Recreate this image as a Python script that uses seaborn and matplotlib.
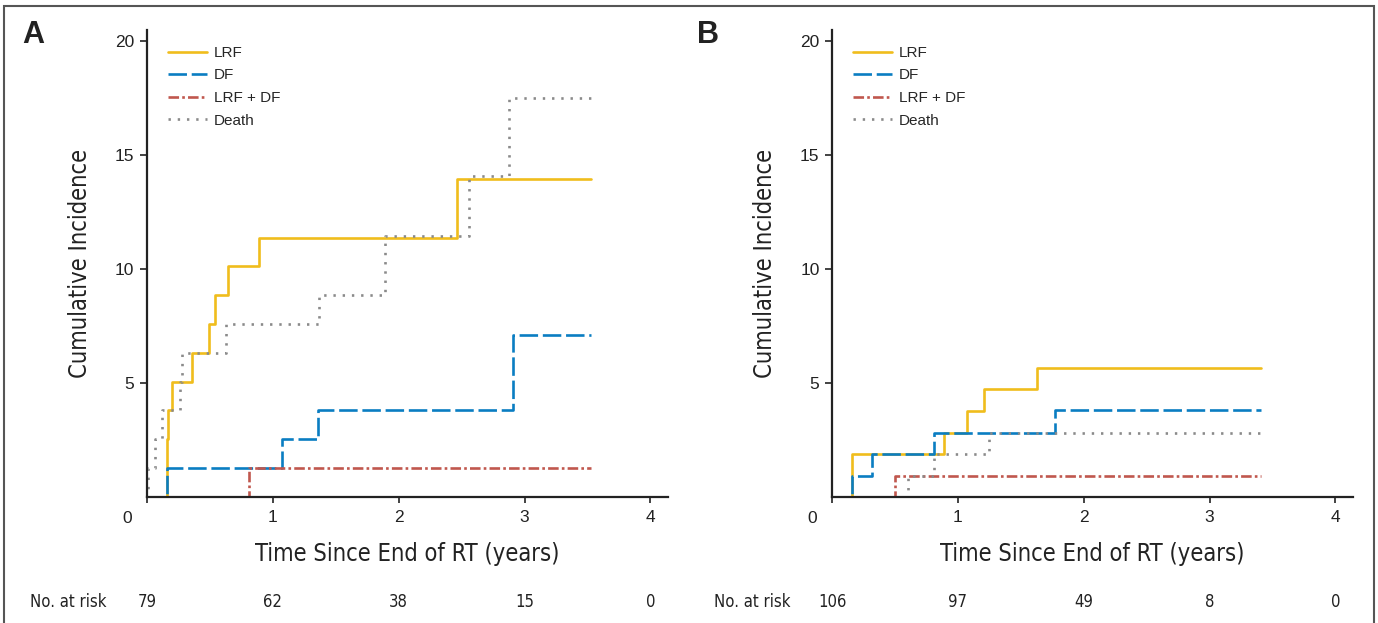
import numpy as np
import pandas as pd
import matplotlib
matplotlib.use('Agg')
import matplotlib.pyplot as plt
import matplotlib.transforms as mtransforms
from matplotlib.lines import Line2D
from matplotlib import font_manager
import seaborn as sns

# Datos (tiempo en anos, incidencia acumulada en %)
series = ['LRF', 'DF', 'LRF + DF', 'Death']

a_lrf_t = [0, 0.155, 0.165, 0.20, 0.36, 0.49, 0.54, 0.64, 0.89, 2.46, 3.53]
a_lrf_y = [0, 2.53, 3.80, 5.06, 6.33, 7.59, 8.86, 10.13, 11.39, 13.95, 13.95]
a_df_t = [0, 0.155, 1.07, 1.36, 2.91, 3.53]
a_df_y = [0, 1.27, 2.53, 3.80, 7.12, 7.12]
a_both_t = [0, 0.81, 3.53]
a_both_y = [0, 1.27, 1.27]
a_death_t = [0, 0.01, 0.065, 0.12, 0.26, 0.28, 0.63, 1.37, 1.89, 2.56, 2.88, 3.53]
a_death_y = [0, 1.27, 2.53, 3.80, 5.06, 6.33, 7.59, 8.86, 11.47, 14.1, 17.5, 17.5]

b_lrf_t = [0, 0.16, 0.89, 1.07, 1.21, 1.63, 3.41]
b_lrf_y = [0, 1.89, 2.83, 3.78, 4.72, 5.68, 5.68]
b_df_t = [0, 0.16, 0.32, 0.81, 1.77, 3.41]
b_df_y = [0, 0.94, 1.89, 2.83, 3.83, 3.83]
b_both_t = [0, 0.50, 3.41]
b_both_y = [0, 0.94, 0.94]
b_death_t = [0, 0.60, 0.81, 1.25, 3.41]
b_death_y = [0, 0.94, 1.89, 2.83, 2.83]

risk_times = [0, 1, 2, 3, 4]
a_risk = [79, 62, 38, 15, 0]
b_risk = [106, 97, 49, 8, 0]

# Estilos
colors = {'LRF': '#F0BD1C', 'DF': '#0A7DC2', 'LRF + DF': '#C0574E', 'Death': '#8A8A8A'}
dashes = {'LRF': '', 'DF': (7, 1.8), 'LRF + DF': (4, 1.2, 1, 1.2), 'Death': (0.9, 2.6)}

sns.set_style('ticks')
plt.rcParams['font.family'] = ['Liberation Sans', 'DejaVu Sans']

# fuente estrecha para rotulos (si existe una version condensada)
cond = [f for f in font_manager.fontManager.ttflist
        if ('Condensed' in f.fname or 'Narrow' in f.fname) and 'Bold' not in f.fname
        and 'Oblique' not in f.fname and 'Italic' not in f.fname]
pref = [f for f in cond if 'LiberationSansNarrow' in f.fname.replace(' ', '')] + \
       [f for f in cond if 'DejaVuSansCondensed' in f.fname] + cond
if pref:
    narrow_fp = font_manager.FontProperties(fname=pref[0].fname)
else:
    narrow_fp = font_manager.FontProperties(family='Liberation Sans')


def nfp(size):
    fp = narrow_fp.copy()
    fp.set_size(size)
    return fp


def make_df(parts):
    frames = []
    for name, t, y in parts:
        frames.append(pd.DataFrame({'time': t, 'inc': y, 'grupo': name}))
    return pd.concat(frames, ignore_index=True)


df_a = make_df([('LRF', a_lrf_t, a_lrf_y), ('DF', a_df_t, a_df_y),
                ('LRF + DF', a_both_t, a_both_y), ('Death', a_death_t, a_death_y)])
df_b = make_df([('LRF', b_lrf_t, b_lrf_y), ('DF', b_df_t, b_df_y),
                ('LRF + DF', b_both_t, b_both_y), ('Death', b_death_t, b_death_y)])

fig = plt.figure(figsize=(13.78, 6.23), dpi=100)
W, H = 1378, 623
ax_a = fig.add_axes([147 / W, 1 - 497 / H, 521 / W, 467 / H])
ax_b = fig.add_axes([832 / W, 1 - 497 / H, 521 / W, 467 / H])

for ax, data, risk, letter, lx, rx in [(ax_a, df_a, a_risk, 'A', 22, 30),
                                       (ax_b, df_b, b_risk, 'B', 697, 714)]:
    sns.lineplot(data=data, x='time', y='inc', hue='grupo', style='grupo',
                 hue_order=series, style_order=series, palette=colors,
                 dashes=dashes, estimator=None, sort=False,
                 drawstyle='steps-post', linewidth=1.9, legend=False, ax=ax)

    ax.set_xlim(0, 4.14)
    ax.set_ylim(0, 20.5)
    ax.set_xticks([0, 1, 2, 3, 4])
    ax.set_xticklabels(['', '1', '2', '3', '4'])
    ax.set_yticks([5, 10, 15, 20])
    ax.tick_params(axis='x', length=4, width=1.2, pad=5, labelsize=12.5, colors='#222222')
    ax.tick_params(axis='y', length=5, width=1.2, pad=4, labelsize=12.5, colors='#222222')
    for s in ['top', 'right']:
        ax.spines[s].set_visible(False)
    for s in ['left', 'bottom']:
        ax.spines[s].set_linewidth(1.6)
        ax.spines[s].set_color('#222222')

    ax.set_xlabel('Time Since End of RT (years)', fontproperties=nfp(17), color='#222222')
    ax.set_ylabel('Cumulative Incidence', fontproperties=nfp(17), color='#222222')
    ax.xaxis.set_label_coords(0.5, -0.096)
    ax.yaxis.set_label_coords(-0.105, 0.5)

    # "0" en la esquina
    ax.text(-0.16, -0.047, '0', transform=ax.get_xaxis_transform(), ha='center',
            va='center', fontsize=12.5, color='#222222')

    handles = [Line2D([], [], color=colors[s], lw=1.9, dashes=dashes[s] if dashes[s] else (None, None))
               for s in series]
    handles[0].set_linestyle('-')
    ax.legend(handles, series, loc='upper left', bbox_to_anchor=(0.041, 0.966),
              frameon=False, fontsize=11, handlelength=2.5, handletextpad=0.5,
              labelspacing=0.56, borderpad=0, borderaxespad=0)

    # Numero en riesgo
    tr = mtransforms.blended_transform_factory(ax.transData, fig.transFigure)
    fig.text(rx / W, 1 - 602 / H, 'No. at risk', ha='left', va='center',
             fontproperties=nfp(12), color='#222222')
    for t, n in zip(risk_times, risk):
        ax.text(t, 1 - 602 / H, str(n), transform=tr, ha='center', va='center',
                fontproperties=nfp(12), color='#222222')

    fig.text(lx / W, 1 - 35 / H, letter, ha='left', va='center', fontsize=22,
             fontweight='bold', color='#222222')

# Marco
frame = plt.Rectangle((4 / W, -0.05), 1370 / W, 1 - 6 / H + 0.05, transform=fig.transFigure,
                      fill=False, edgecolor='#555555', linewidth=1.5, clip_on=False)
fig.patches.append(frame)

fig.savefig('out.png', dpi=100)
